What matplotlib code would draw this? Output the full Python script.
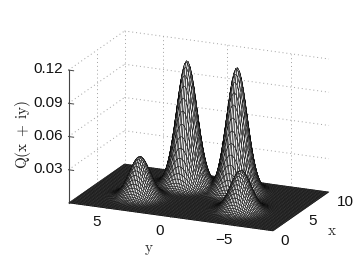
import numpy as np
import matplotlib
matplotlib.use('Agg')
import matplotlib.pyplot as plt
from mpl_toolkits.mplot3d import proj3d

plt.rcParams['font.family'] = ['Liberation Sans', 'DejaVu Sans']
plt.rcParams['mathtext.fontset'] = 'cm'

# peaks
peak_x = [3.5, 3.5, 7.35, 7.35]
peak_y = [3.95, -3.95, 1.96, -1.96]
peak_h = [0.036, 0.036, 0.112, 0.112]
peak_w = [0.74, 0.74, 0.74, 0.74]

x_ticks = [0, 5, 10]
y_ticks = [5, 0, -5]
y_labels = ['5', '0', '\u22125']
z_ticks = [0.03, 0.06, 0.09, 0.12]
z_labels = ['0.03', '0.06', '0.09', '0.12']

x = np.linspace(0, 10, 81)
y = np.linspace(-8, 8, 129)
X, Y = np.meshgrid(x, y)
Z = np.zeros_like(X)
for px, py, h, w in zip(peak_x, peak_y, peak_h, peak_w):
    Z += h * np.exp(-((X - px) ** 2 + (Y - py) ** 2) / (2 * w ** 2))

W, H = 362, 273
fig = plt.figure(figsize=(W / 100, H / 100), dpi=100)
ax = fig.add_axes([0, 0, 1, 1], projection='3d', proj_type='ortho')
ax.set_box_aspect((138.3, 223.7, 139.8), zoom=1)
ax.view_init(elev=18, azim=203.9)
ax.set_xlim(0, 10)
ax.set_ylim(-8, 8)
ax.set_zlim(0, 0.12)
ax.set_axis_off()


def to_px(a, b, c):
    u, v, _ = proj3d.proj_transform(a, b, c, ax.get_proj())
    return ax.transData.transform((u, v))


def label3d(a, b, c, s, **kw):
    px, py = to_px(a, b, c)
    fig.text(px / W, py / H, s, va='center', fontsize=11, color='#111111', **kw)


# fit the box so that its floor corners land where the reference has them
fig.canvas.draw()
left = to_px(0, 8, 0)
right = to_px(10, -8, 0)
pos = ax.get_position()
side = pos.width * W
s = (329 - 68.5) / (right[0] - left[0])
new_side = side * s
ax.set_position([0, 0, new_side / W, new_side / H])
fig.canvas.draw()
left = to_px(0, 8, 0)
p = ax.get_position()
ax.set_position([p.x0 + (68.5 - left[0]) / W, p.y0 + ((H - 203) - left[1]) / H, p.width, p.height])
fig.canvas.draw()

grid = dict(color='#a0a0a0', lw=0.7, ls=(0, (1, 3)), clip_on=False)
for zt in z_ticks:
    ax.plot([10, 10], [8, -8], [zt, zt], **grid)
    ax.plot([0, 10], [8, 8], [zt, zt], **grid)
for yt in [8] + y_ticks:
    ax.plot([10, 10], [yt, yt], [0, 0.12], **grid)
ax.plot([5, 5], [8, 8], [0, 0.12], **grid)

ax.plot_surface(X, Y, Z, rstride=1, cstride=1, color='#f0f0f0', shade=False,
                edgecolor='#080808', linewidth=0.36, antialiased=True)

axis_col = '#444444'
ax.plot([0, 0], [8, 8], [0, 0.12], color=axis_col, lw=0.8, clip_on=False)
for zt, lab in zip(z_ticks, z_labels):
    ax.plot([0, 0], [8, 7.6], [zt, zt], color=axis_col, lw=0.7, clip_on=False)
    label3d(0, 8.45, zt, lab, ha='right')
for yt, lab in zip(y_ticks, y_labels):
    ax.plot([0, 0.35], [yt, yt], [0, 0], color=axis_col, lw=0.7, clip_on=False)
    label3d(-1.9, yt, -0.006, lab, ha='center')
for xt in x_ticks:
    label3d(xt, -8.6, -0.008, str(xt), ha='left')

fig.text(0.064, 0.509, r'$\mathrm{Q(x\;+\;iy)}$', rotation=90, ha='center', va='center', fontsize=11, color='#222222')
fig.text(0.412, 0.085, r'$\mathrm{y}$', ha='center', va='center', fontsize=11, color='#333333')
fig.text(0.917, 0.155, r'$\mathrm{x}$', ha='center', va='center', fontsize=11, color='#333333')

fig.savefig('out.png', dpi=100)
